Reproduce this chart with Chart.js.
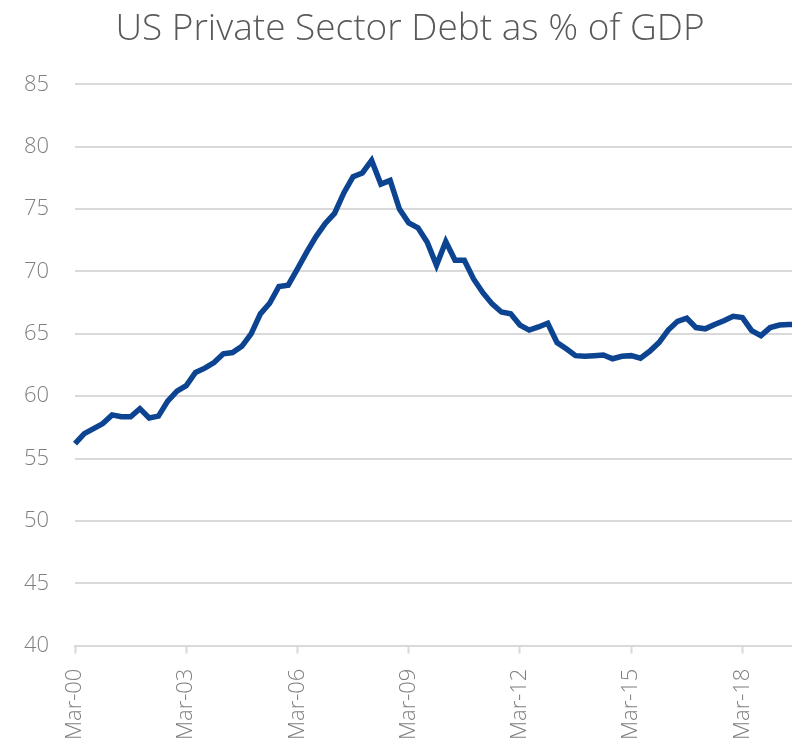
<!DOCTYPE html>
<html>
<head>
<meta charset="utf-8">
<script src="https://cdn.jsdelivr.net/npm/chart.js@4/dist/chart.umd.min.js"></script>
<style>
    html, body { margin: 0; padding: 0; background: #fff; overflow: hidden; }
    #wrap { width: 792px; height: 740px; overflow: hidden; }
</style>
</head>
<body>
<div id="wrap"><canvas id="debt-chart" width="824" height="760"></canvas></div>
<script>
// quarters Mar-00 .. Sep-19
const quarterMonths = ['Mar', 'Jun', 'Sep', 'Dec'];
const years = ['00', '01', '02', '03', '04', '05', '06', '07', '08', '09',
    '10', '11', '12', '13', '14', '15', '16', '17', '18', '19'];

const debtPct = [
    56.2, 57.0, 57.4, 57.8, 58.5, 58.35, 58.35, 59.0, 58.25, 58.4,
    59.6, 60.4, 60.85, 61.9, 62.25, 62.7, 63.4, 63.5, 64.0, 65.0,
    66.6, 67.45, 68.8, 68.9, 70.2, 71.55, 72.8, 73.85, 74.65, 76.3,
    77.6, 77.9, 78.9, 77.0, 77.3, 75.0, 73.9, 73.5, 72.35, 70.5,
    72.4, 70.9, 70.9, 69.4, 68.3, 67.4, 66.75, 66.6, 65.7, 65.3,
    65.55, 65.85, 64.3, 63.8, 63.25, 63.2, 63.25, 63.3, 63.0, 63.2,
    63.25, 63.05, 63.6, 64.3, 65.3, 66.0, 66.25, 65.5, 65.4, 65.75,
    66.05, 66.4, 66.3, 65.25, 64.85, 65.5, 65.7, 65.75, 65.75
];

const yTicks = [40, 45, 50, 55, 60, 65, 70, 75, 80, 85];

const labels = [];
years.forEach(y => quarterMonths.forEach(m => labels.push(`${m}-${y}`)));
labels.length = debtPct.length;

const tickFont = { family: 'Open Sans', size: 22, weight: 300 };

const ctx = document.getElementById('debt-chart').getContext('2d');

new Chart(ctx, {
    type: 'line',
    data: {
        labels: labels,
        datasets: [{
            label: 'Private sector debt',
            data: debtPct,
            borderColor: '#0c4491',
            borderWidth: 5.5,
            pointRadius: 0,
            tension: 0,
            fill: false,
        }]
    },
    options: {
        responsive: false,
        animation: false,
        layout: {
            padding: { left: 22, right: 26, top: 0, bottom: 5 }
        },
        plugins: {
            legend: { display: false },
            tooltip: { enabled: false },
            title: {
                display: true,
                text: 'US Private Sector Debt as % of GDP',
                color: '#595959',
                font: { family: 'Open Sans', size: 37, weight: 300 },
                padding: { top: 7, bottom: 33 },
            }
        },
        scales: {
            x: {
                offset: false,
                afterFit: (axis) => {
                    // rotated labels add side padding we don't want
                    axis.paddingLeft = 0;
                    axis.paddingRight = 0;
                },
                grid: {
                    drawOnChartArea: false,
                    drawTicks: true,
                    tickLength: 8,
                    tickWidth: 2,
                    tickColor: (c) => c.index % 12 === 0 ? '#d9d9d9' : 'rgba(0,0,0,0)',
                },
                border: { display: true, color: '#d9d9d9', width: 2 },
                ticks: {
                    autoSkip: false,
                    maxRotation: 90,
                    minRotation: 90,
                    padding: 15,
                    color: '#7f7f7f',
                    font: tickFont,
                    callback: function (value, index) {
                        return index % 12 === 0 ? labels[index] : '';
                    }
                }
            },
            y: {
                min: yTicks[0],
                max: yTicks[yTicks.length - 1],
                afterBuildTicks: (axis) => {
                    axis.ticks = yTicks.map(v => ({ value: v }));
                },
                afterFit: (axis) => {
                    axis.width = 53;
                },
                grid: {
                    color: '#d9d9d9',
                    lineWidth: 2,
                    drawTicks: false,
                },
                border: { display: false },
                ticks: {
                    padding: 26,
                    color: '#7f7f7f',
                    font: tickFont,
                }
            }
        }
    }
});
</script>
</body>
</html>
